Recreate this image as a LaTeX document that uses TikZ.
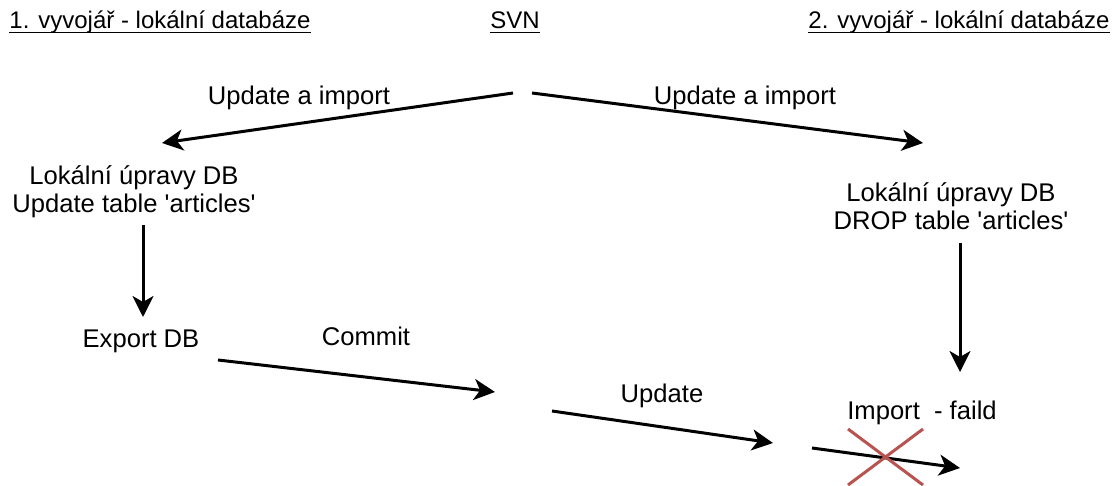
\documentclass[tikz,border=0pt]{standalone}
\usepackage{fontspec}
\newfontfamily\dgfont{Liberation Sans}
\usetikzlibrary{arrows.meta}
\definecolor{xred}{HTML}{B85450}
\tikzset{
    every node/.style={inner sep=0pt, anchor=base, align=center, font=\dgfont\fontsize{12.8}{14}\selectfont}
}
\tikzset{hdr/.style={font=\dgfont\fontsize{12}{14}\selectfont}}
\tikzset{flow/.style={-{Stealth[length=10.5pt,width=10.5pt,inset=3pt]}, line width=1.5pt}}
\tikzset{cross/.style={draw=xred, line width=1.5pt}}

\begin{document}
\begin{tikzpicture}[x=0.5pt, y=-0.5pt]
        \useasboundingbox (0,0) rectangle (1118,486);
        \node[hdr] (dev1) at (160, 28.5) {1. vyvojář - lokální databáze};
        \node[hdr] (svn) at (515, 28.5) {SVN};
        \node[hdr] (dev2) at (959, 28.5) {2. vyvojář - lokální databáze};
        \node (upd1) at (299, 105) {Update a import};
        \node (upd2) at (745, 105) {Update a import};
        \node (loc1) at (134, 213) {Lokální úpravy DB\\Update table 'articles'};
        \node (export) at (141, 347) {Export DB};
        \node (commit) at (366, 345) {Commit};
        \node (update) at (662, 402) {Update};
        \node (loc2) at (951, 230) {Lokální úpravy DB\\DROP table 'articles'};
        \node (import) at (922, 419) {Import~~- faild};
        \coordinate (svnl) at (513, 93);
        \coordinate (loc1in) at (162, 143);
        \coordinate (svnr) at (532, 93);
        \coordinate (loc2in) at (923, 143);
        \coordinate (loc1out) at (143, 225);
        \coordinate (exportin) at (143, 317);
        \coordinate (exportout) at (218, 360);
        \coordinate (svnin) at (495, 392);
        \coordinate (svnout) at (552, 411);
        \coordinate (dev2in) at (773, 443);
        \coordinate (loc2out) at (960, 243);
        \coordinate (importin) at (960, 372);
        \coordinate (importout) at (812, 448);
        \coordinate (dbin) at (960, 468);
        \coordinate (fail) at (885.5, 457);
        \foreach \h in {dev1,svn,dev2}
                \draw[line width=0.75pt] ([yshift=-2pt]\h.base west) -- ([yshift=-2pt]\h.base east);
        \draw[flow] (svnl) -- (loc1in);
        \draw[flow] (svnr) -- (loc2in);
        \draw[flow] (loc1out) -- (exportin);
        \draw[flow] (exportout) -- (svnin);
        \draw[flow] (svnout) -- (dev2in);
        \draw[flow] (loc2out) -- (importin);
        \draw[flow] (importout) -- (dbin);
        \draw[cross] ([shift={(-37.5,-28)}]fail) -- ([shift={(37.5,28)}]fail);
        \draw[cross] ([shift={(37.5,-28)}]fail) -- ([shift={(-37.5,28)}]fail);
\end{tikzpicture}
\end{document}
